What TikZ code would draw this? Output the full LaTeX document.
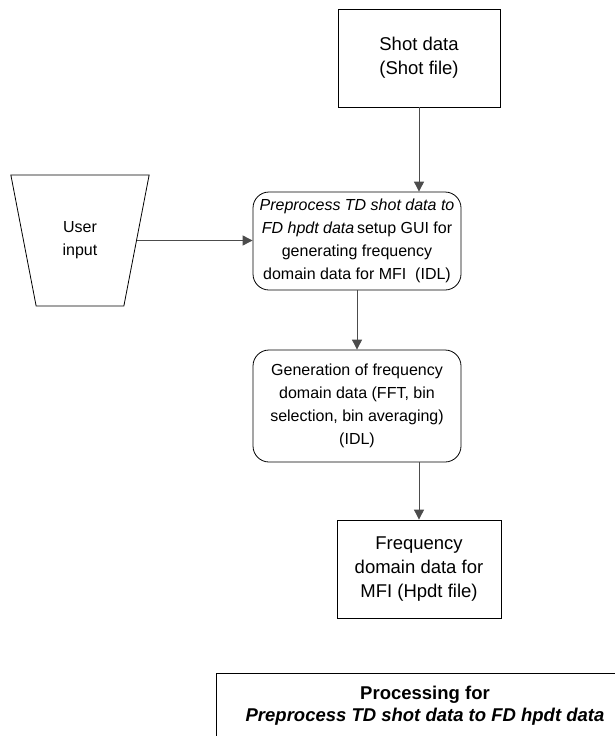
\documentclass[tikz,border=0pt]{standalone}
\usepackage{fontspec}
\setmainfont{Liberation Sans}
\usetikzlibrary{arrows.meta,shapes.geometric}

\tikzset{
  flow/.style={draw=black!70, line width=0.9pt, -{Triangle[length=10pt,width=10pt]}},
  filebox/.style={draw, line width=0.8pt, minimum width=162pt, minimum height=98pt, align=center, inner sep=0pt,
    font=\fontsize{18.5}{24}\selectfont},
  procbox/.style={draw, line width=0.8pt, rounded corners=16pt, minimum width=208pt, align=center, inner sep=0pt},
}

\begin{document}
\begin{tikzpicture}[x=1pt, y=-1pt, font=\fontsize{16}{23}\selectfont]
    \useasboundingbox (0,0) rectangle (615,736);

    % Data files and processing steps
    \node[filebox] (shot) at (419,58) {Shot data\\(Shot file)};
    \node[procbox, minimum height=98pt] (setup) at (357,241)
      {\textit{Preprocess TD shot data to}\\
       \textit{FD hpdt data}\,setup GUI for\\
       generating frequency\\
       domain data for MFI~~(IDL)};
    \node[procbox, minimum height=112pt] (gen) at (357,406)
      {Generation of frequency\\
       domain data (FFT, bin\\
       selection, bin averaging)\\
       (IDL)};
    \node[filebox, minimum width=164pt] (freq) at (419,569)
      {Frequency\\domain data for\\MFI (Hpdt file)};

    % Manual input (inverted trapezium)
    \node[draw, line width=0.8pt, trapezium, trapezium stretches=true,
          shape border rotate=180, trapezium left angle=75, trapezium right angle=75,
          minimum width=139pt, minimum height=131pt, inner sep=0pt, align=center]
          (user) at (80,240.5) {User\\input};

    % Connectors
    \draw[flow] (shot.south) -- (shot.south |- setup.north);
    \draw[flow] (user.0) -- (user.0 -| setup.west);
    \draw[flow] (setup.south) -- (gen.north);
    \draw[flow] (freq.north |- gen.south) -- (freq.north);

    % Caption box
    \draw[line width=0.8pt] (216,673) rectangle (640,790);
    \node[align=center, font=\fontsize{18.5}{22}\selectfont\bfseries] (proc) at (425,706)
      {Processing for\\ \textit{Preprocess TD shot data to FD hpdt data}};
\end{tikzpicture}
\end{document}
